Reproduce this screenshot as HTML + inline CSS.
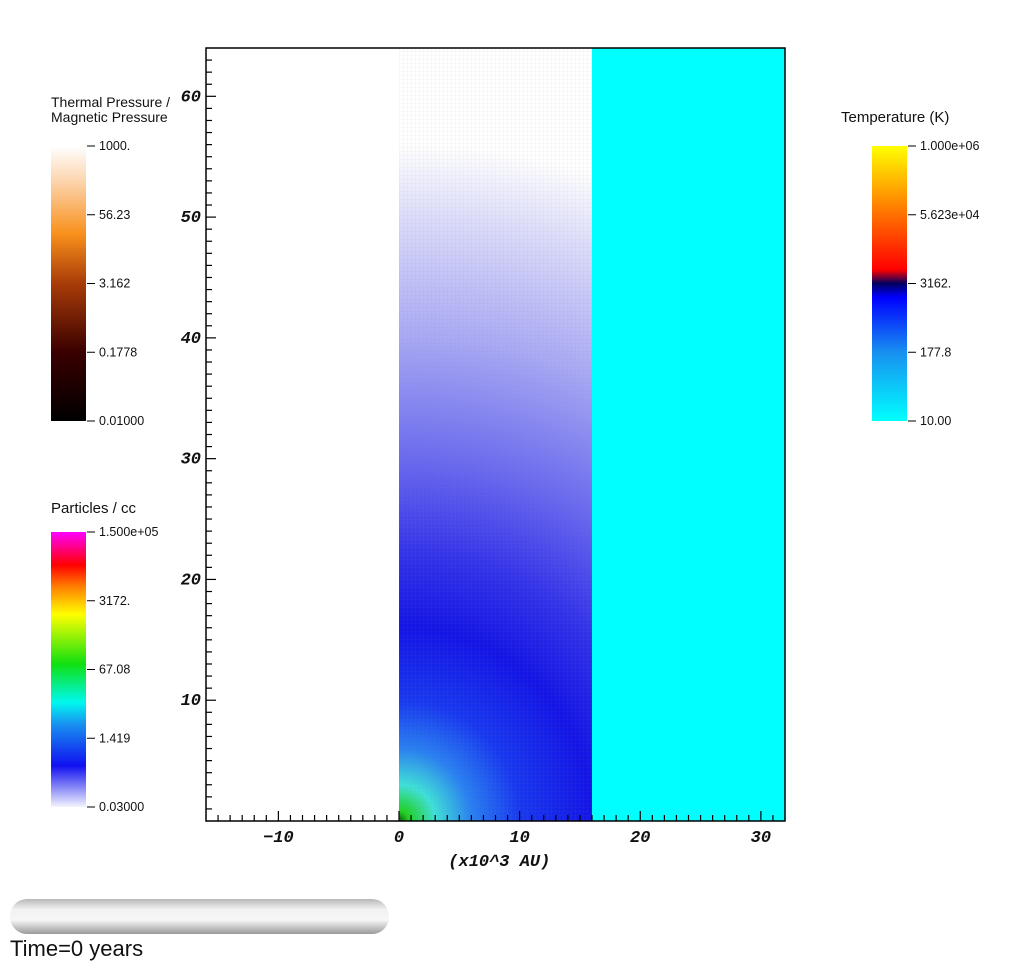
<!DOCTYPE html>
<html><head><meta charset="utf-8"><style>
html,body{margin:0;padding:0;background:#fff;width:1027px;height:967px;overflow:hidden}
svg{display:block}
.tk{font-family:"Liberation Mono",monospace;font-weight:bold;font-style:italic;font-size:17px;fill:#111}
.cb{font-family:"Liberation Sans",sans-serif;font-size:12.5px;fill:#111}
.ct{font-family:"Liberation Sans",sans-serif;font-size:14px;fill:#111}
</style></head><body>
<svg id="chart" width="1027" height="967" viewBox="0 0 1027 967">
<defs>
<pattern id="grid" width="4" height="4" patternUnits="userSpaceOnUse"><path d="M4 0V4H0" fill="none" stroke="#888" stroke-opacity="0.2" stroke-width="0.6"/></pattern>
<linearGradient id="g1" x1="0" y1="1" x2="0" y2="0">
<stop offset="0" stop-color="#000"/><stop offset="0.25" stop-color="#3a0000"/><stop offset="0.5" stop-color="#a83c08"/><stop offset="0.68" stop-color="#f8901c"/><stop offset="0.87" stop-color="#fcd4ac"/><stop offset="1" stop-color="#fff"/></linearGradient>
<linearGradient id="g2" x1="0" y1="1" x2="0" y2="0">
<stop offset="0" stop-color="#f4f4ff"/><stop offset="0.15" stop-color="#1010f0"/><stop offset="0.3" stop-color="#1890f0"/><stop offset="0.38" stop-color="#00f8f0"/><stop offset="0.52" stop-color="#10e010"/><stop offset="0.7" stop-color="#ffff00"/><stop offset="0.8" stop-color="#ff8000"/><stop offset="0.88" stop-color="#ff0000"/><stop offset="1" stop-color="#ff00ff"/></linearGradient>
<linearGradient id="g3" x1="0" y1="1" x2="0" y2="0">
<stop offset="0" stop-color="#00ffff"/><stop offset="0.25" stop-color="#1890f0"/><stop offset="0.45" stop-color="#0000ff"/><stop offset="0.5" stop-color="#000060"/><stop offset="0.55" stop-color="#ff0000"/><stop offset="0.75" stop-color="#ff7000"/><stop offset="1" stop-color="#ffff00"/></linearGradient>
</defs>
<g id="plot"></g>
<g>
<text class="ct" x="51" y="107">Thermal Pressure /</text><text class="ct" x="51" y="122">Magnetic Pressure</text>
<rect x="51" y="146" width="35" height="275" fill="url(#g1)"/>
<g id="cb1"></g></g>
<g>
<text class="ct" x="51" y="513" style="font-size:15px">Particles / cc</text>
<rect x="51" y="532" width="35" height="275" fill="url(#g2)"/>
<g id="cb2"></g></g>
<g>
<text class="ct" x="841" y="122" style="font-size:15px">Temperature (K)</text>
<rect x="872" y="146" width="35" height="275" fill="url(#g3)"/>
<g id="cb3"></g></g>
<g>
<linearGradient id="sl" x1="0" y1="0" x2="0" y2="1"><stop offset="0" stop-color="#b8b8b8"/><stop offset="0.3" stop-color="#f2f2f2"/><stop offset="0.6" stop-color="#f6f6f6"/><stop offset="1" stop-color="#9a9a9a"/></linearGradient>
<rect x="10" y="899" width="379" height="35" rx="17" fill="url(#sl)"/>
</g>
<text x="10" y="956" style="font-family:'Liberation Sans',sans-serif;font-size:22px;fill:#111">Time=0 years</text>
</svg>
<script>
const xTicks=[-10,0,10,20,30];
const yTicks=[10,20,30,40,50,60];
const xDomain=[-16,32];
const yDomain=[0,64];
const densityRegion=[0,16];
const tempRegion=[16,32];
const radialStops=[0,0.8,3,6,10,16,22,30,40,50,56];
const radialColors=["#105010","#20d020","#40e0d8","#2a80f0","#1838ee","#1414e4","#3232e8","#6a6aee","#a8a8f4","#dcdcfa","#ffffff"];
const cb1Labels=["1000.","56.23","3.162","0.1778","0.01000"];
const cb2Labels=["1.500e+05","3172.","67.08","1.419","0.03000"];
const cb3Labels=["1.000e+06","5.623e+04","3162.","177.8","10.00"];
const NS="http://www.w3.org/2000/svg";
const L=206,R=785,T=48,B=821;
const sx=v=>L+(v-xDomain[0])/(xDomain[1]-xDomain[0])*(R-L);
const sy=v=>B-(v-yDomain[0])/(yDomain[1]-yDomain[0])*(B-T);
function mk(t,a,p){const e=document.createElementNS(NS,t);for(const k in a)e.setAttribute(k,a[k]);(p||plot).appendChild(e);return e;}
const plot=document.getElementById('plot');
const defs=document.querySelector('defs');
const rg=mk('radialGradient',{id:'rad',gradientUnits:'userSpaceOnUse',cx:sx(0),cy:sy(0),r:sy(0)-sy(radialStops[radialStops.length-1])},defs);
radialStops.forEach((s,i)=>mk('stop',{offset:s/radialStops[radialStops.length-1],'stop-color':radialColors[i]},rg));
const d=mk('rect',{x:sx(densityRegion[0]),y:T,width:sx(densityRegion[1])-sx(densityRegion[0]),height:B-T,fill:'url(#rad)'});


const gr=mk('rect',{x:sx(densityRegion[0]),y:T,width:sx(densityRegion[1])-sx(densityRegion[0]),height:B-T,fill:'url(#grid)'});


const tr=mk('rect',{x:sx(tempRegion[0]),y:T,width:sx(tempRegion[1])-sx(tempRegion[0]),height:B-T,fill:'#00ffff'});


const fr=mk('rect',{x:L,y:T,width:R-L,height:B-T,fill:'none',stroke:'#000','stroke-width':1.5});


for(let v=xDomain[0]+1;v<xDomain[1];v++){const x=sx(v),maj=v%10===0;mk('line',{x1:x,x2:x,y1:B,y2:B-(maj?10:6),stroke:'#000','stroke-width':1.2});}
for(let v=yDomain[0]+1;v<yDomain[1];v++){const y=sy(v),maj=v%10===0;mk('line',{x1:L,x2:L+(maj?10:6),y1:y,y2:y,stroke:'#000','stroke-width':1.2});}
xTicks.forEach(v=>{const t=mk('text',{x:sx(v),y:B+21,'text-anchor':'middle',class:'tk'});t.textContent=v<0?'\u2212'+(-v):v;

});
yTicks.forEach(v=>{const t=mk('text',{x:L-5,y:sy(v)+5,'text-anchor':'end',class:'tk'});t.textContent=v;

});
const xt=mk('text',{x:(sx(0)+sx(10))/2+40,y:866,'text-anchor':'middle',class:'tk'});xt.textContent='(x10^3 AU)';


function cb(id,x,y0,labels){const g=document.getElementById(id);labels.forEach((s,i)=>{const y=y0+i*275/(labels.length-1);
mk('line',{x1:x,x2:x+8,y1:y,y2:y,stroke:'#000'},g);const t=mk('text',{x:x+12,y:y+4,class:'cb'},g);t.textContent=s;

});}
cb('cb1',87,146,cb1Labels);cb('cb2',87,532,cb2Labels);cb('cb3',908,146,cb3Labels);
</script>
</body></html>
